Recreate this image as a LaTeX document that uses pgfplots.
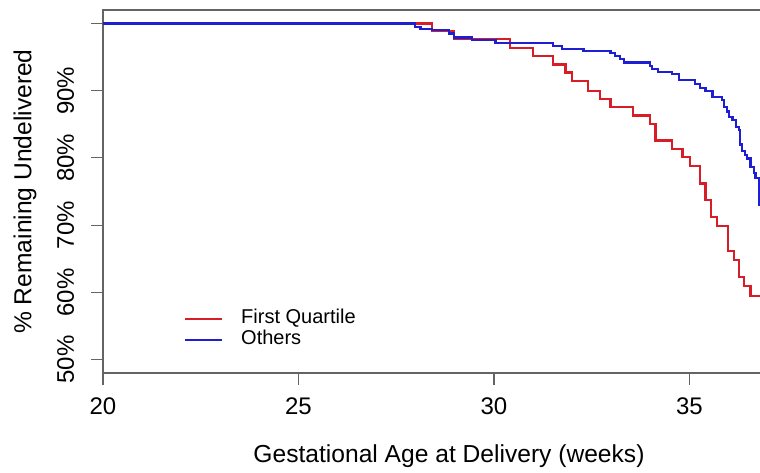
\documentclass[border=0pt]{standalone}
\usepackage{pgfplots}
\pgfplotsset{compat=1.18}
\usepackage{fontspec}
\setmainfont{Liberation Sans}
\definecolor{kmred}{RGB}{215,30,40}
\definecolor{kmblue}{RGB}{30,30,210}
\definecolor{axgray}{RGB}{100,100,100}
\begin{document}
\begin{tikzpicture}
\useasboundingbox (-51.5pt,-49.5pt) rectangle (328.5pt,186.5pt);
\clip (-51.5pt,-49.5pt) rectangle (328.5pt,186.5pt);
\begin{axis}[
  scale only axis, width=346pt, height=181.5pt,
  anchor=south west, at={(0pt,0pt)},
  xmin=20, xmax=37.7, ymin=48, ymax=102,
  axis line style={draw=axgray, line width=0.8pt},
  xtick={20,25,30,35}, ytick={50,60,70,80,90,100},
  yticklabels={50\%,60\%,70\%,80\%,90\%,},
  tick align=outside, tick pos=left, major tick length=6pt,
  tick style={axgray, line width=0.6pt},
  /pgf/number format/assume math mode=true,
  ticklabel style={font=\fontsize{12}{14}\selectfont},
  xticklabel style={anchor=base, yshift=-14.5pt},
  yticklabel style={anchor=base, xshift=-8.5pt, rotate=90},
  xlabel={Gestational Age at Delivery (weeks)},
  ylabel={\% Remaining Undelivered},
  label style={font=\fontsize{12.3}{14}\selectfont},
  xlabel style={at={(axis description cs:0.5,0)}, anchor=base, yshift=-44.5pt},
  ylabel style={at={(axis description cs:-0.1127,0.5)}, anchor=center, rotate=0},
  legend style={draw=none, fill=none, at={(axis description cs:0.1078,0.1207)}, anchor=west,
    font=\fontsize{10}{12}\selectfont, row sep=0pt,
    nodes={inner sep=0pt, text height=7.5pt, text depth=3pt}},
  legend cell align=left,
  legend image code/.code={\draw[#1] (0pt,0pt) -- (18.5pt,0pt); \path (27.5pt,0pt);},
]
\addplot[const plot, kmred, line width=1.1pt] coordinates {
(20,100) (28.41,98.9) (28.97,97.7) (30.42,96.4) (31.00,95.1) (31.52,93.9)
(31.83,92.7) (32.00,91.4) (32.41,90.0) (32.72,88.8) (32.98,87.6) (33.56,86.3)
(34.00,85.1) (34.13,82.6) (34.56,81.3) (34.82,80.1) (35.01,78.8) (35.28,76.2)
(35.41,73.7) (35.55,71.2) (35.71,69.9) (35.98,66.1) (36.13,64.8) (36.27,62.3)
(36.39,60.9) (36.56,59.5) (37.7,59.5)
};
\addlegendentry{First Quartile}
\addplot[const plot, kmblue, line width=1.1pt] coordinates {
(20,100) (27.99,99.5) (28.12,99.2) (28.42,99.0) (28.84,98.5) (28.97,97.9)
(29.43,97.5) (30.04,97.1) (31.52,96.7) (31.74,96.2) (32.29,95.85) (32.98,95.55)
(33.10,95.2) (33.23,94.7) (33.32,94.2) (34.00,93.7) (34.05,93.25) (34.20,92.8)
(34.56,92.45) (34.74,91.6) (35.15,91.0) (35.28,90.4) (35.41,89.9) (35.59,89.0)
(35.84,88.6) (35.88,87.6) (35.97,86.9) (36.02,86.1) (36.10,85.6) (36.19,84.6)
(36.27,84.1) (36.30,82.0) (36.35,81.0) (36.43,80.4) (36.48,79.9) (36.56,78.6)
(36.65,77.7) (36.69,77.0) (36.78,73.0) (37.7,73.0)
};
\addlegendentry{Others}
\end{axis}
\end{tikzpicture}
\end{document}
